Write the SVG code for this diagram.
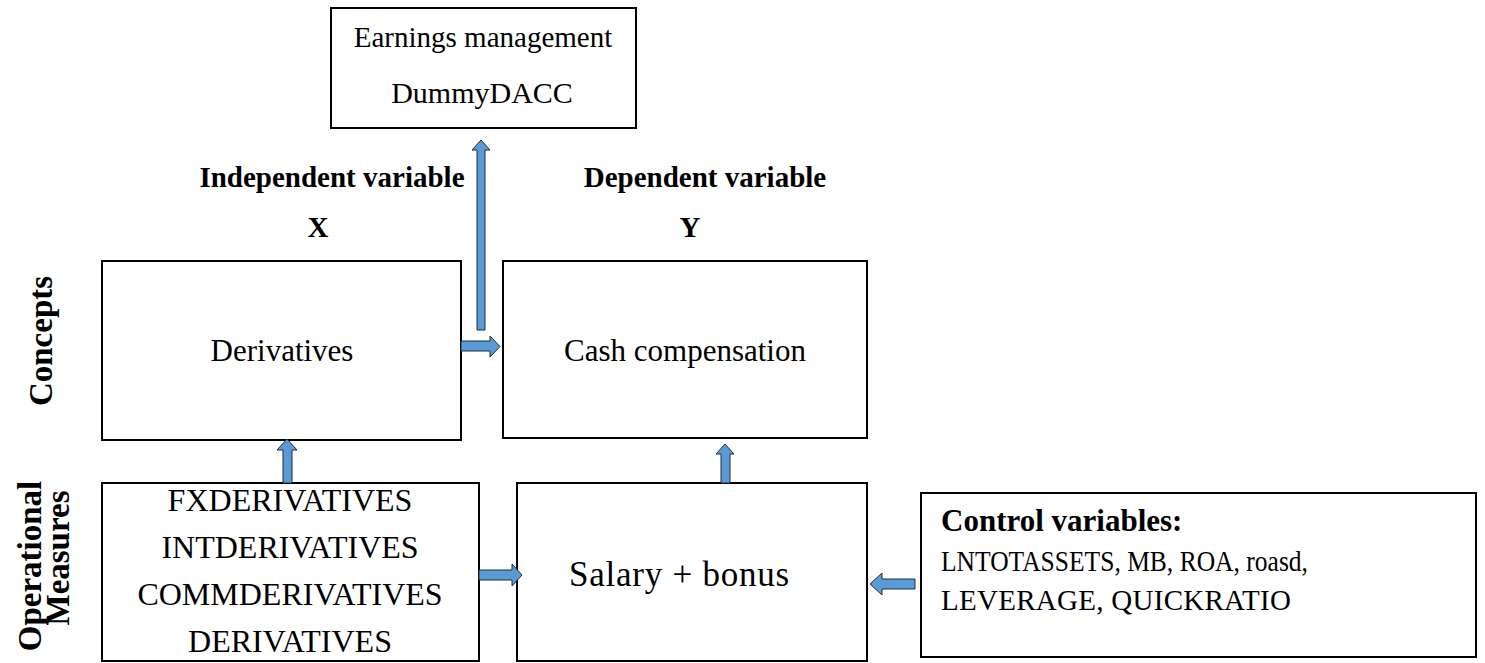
<svg xmlns="http://www.w3.org/2000/svg" width="1485" height="663" viewBox="0 0 1485 663">
  <style>
    .box { fill: #ffffff; stroke: #000000; stroke-width: 2; }
    .arrow { fill: #5b9bd5; stroke: #1f2d3d; stroke-width: 1; stroke-linejoin: miter; }
    .t { font-family: "Liberation Serif", "Times New Roman", serif; font-size: 29px; fill: #000000; }
    .c { text-anchor: middle; }
    .b { font-weight: bold; }
  </style>
  <rect width="1485" height="663" fill="#ffffff"/>

  <!-- column headings -->
  <g id="headings">
    <text class="t b c" x="332" y="187">Independent variable</text>
    <text class="t b c" x="318" y="237">X</text>
    <text class="t b c" x="705" y="187">Dependent variable</text>
    <text class="t b c" x="690" y="237">Y</text>
  </g>

  <!-- row headings, rotated -->
  <g id="row-labels">
    <text class="t b c" style="font-size:33px" transform="translate(52,341) rotate(-90)">Concepts</text>
    <text class="t b c" style="font-size:33px" transform="translate(41,566) rotate(-90)">Operational</text>
    <text class="t b c" style="font-size:33px" transform="translate(69,558) rotate(-90)">Measures</text>
  </g>

  <g id="earnings">
    <rect class="box" x="331" y="8" width="305" height="120"/>
    <text class="t c" x="483" y="47">Earnings management</text>
    <text class="t c" style="font-size:30px" x="482" y="103">DummyDACC</text>
  </g>

  <g id="derivatives">
    <rect class="box" x="102" y="261" width="359" height="179"/>
    <text class="t c" style="font-size:31px" x="282" y="361">Derivatives</text>
  </g>

  <g id="cash-compensation">
    <rect class="box" x="503" y="261" width="364" height="177"/>
    <text class="t c" style="font-size:31px" x="685" y="361">Cash compensation</text>
  </g>

  <g id="measures-x">
    <rect class="box" x="102" y="483" width="377" height="178"/>
    <text class="t c" style="font-size:32px" x="290" y="511">FXDERIVATIVES</text>
    <text class="t c" style="font-size:32px" x="290" y="558">INTDERIVATIVES</text>
    <text class="t c" style="font-size:32px" x="290" y="605">COMMDERIVATIVES</text>
    <text class="t c" style="font-size:32px" x="290" y="652">DERIVATIVES</text>
  </g>

  <g id="salary-bonus">
    <rect class="box" x="517" y="483" width="350" height="178"/>
    <text class="t c" style="font-size:35px" x="679" y="586" textLength="220" lengthAdjust="spacing">Salary + bonus</text>
  </g>

  <g id="controls">
    <rect class="box" x="921" y="493" width="555" height="164"/>
    <text class="t b" style="font-size:31px" x="941" y="531">Control variables:</text>
    <text class="t" x="941" y="571" textLength="367" lengthAdjust="spacingAndGlyphs">LNTOTASSETS, MB, ROA, roasd,</text>
    <text class="t" x="941" y="610" textLength="350" lengthAdjust="spacing">LEVERAGE, QUICKRATIO</text>
  </g>

  <!-- block arrows -->
  <g id="connectors">
    <!-- up to earnings management -->
    <polygon class="arrow" points="477,330 477,150 472,150 481,140 490,150 485,150 485,330"/>
    <!-- derivatives to cash compensation -->
    <polygon class="arrow" points="461,341 490,341 490,336 500,346.5 490,357 490,351 461,351"/>
    <!-- measures up to derivatives -->
    <polygon class="arrow" points="283,483 283,450 277,450 287,439 297,450 292,450 292,483"/>
    <!-- salary up to cash compensation -->
    <polygon class="arrow" points="721,483 721,454 716,454 725,444 734,454 730,454 730,483"/>
    <!-- measures to salary -->
    <polygon class="arrow" points="479,570 512,570 512,564 522,575 512,586 512,580 479,580"/>
    <!-- controls to salary -->
    <polygon class="arrow" points="915,579 882,579 882,573 870,584 882,595 882,589 915,589"/>
  </g>
</svg>
